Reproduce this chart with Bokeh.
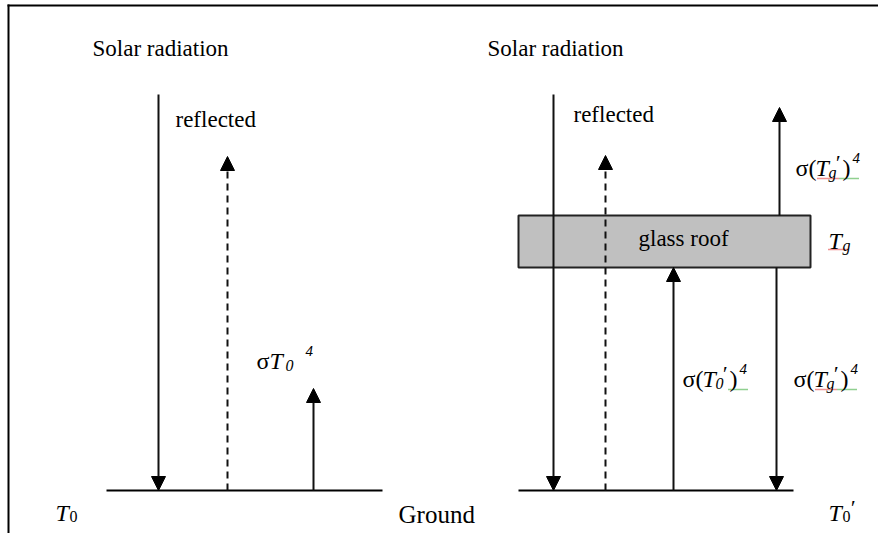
from bokeh.plotting import figure
from bokeh.models import Range1d, Arrow, NormalHead, ColumnDataSource
from bokeh.core.properties import value
from bokeh.embed import file_html
from bokeh.resources import INLINE

FONT = "Liberation Serif"

# ---- diagram content (image-pixel coordinates, y grows downward) ----
ground_y = 490
ground_x0 = [106, 518]
ground_x1 = [382, 793]

# arrows: x, start y, end y (tip), dashed
arrow_x = [158, 227, 313, 553, 605, 779, 673, 776]
arrow_y0 = [94, 490, 490, 94, 490, 215, 490, 267]
arrow_y1 = [490, 156, 388, 490, 155, 107, 267, 490]
arrow_dashed = [False, True, False, False, True, False, False, False]

roof_left, roof_right, roof_top, roof_bottom = 518, 810, 215, 267

# plain labels: text, x, baseline y, size
plain_text = ["Solar radiation", "Solar radiation", "reflected", "reflected", "glass roof", "Ground"]
plain_x = [92, 487, 175, 573, 638, 398]
plain_y = [48, 48, 119, 114, 238, 514]
plain_size = ["23px", "23px", "23px", "23px", "23px", "25px"]

# formula pieces: text, x, baseline y, size(px), italic
pieces = [
    # sigma T0^4 (left)
    ("σ", 256, 360, 24, False), ("T", 269, 360, 24, True), ("0", 285, 365, 16, True), ("4", 305, 350, 15, True),
    # sigma (T0')^4
    ("σ", 682, 378, 24, False), ("(", 695, 378, 24, False), ("T", 702, 378, 24, True), ("0", 715, 383, 16, True),
    ("′", 721, 373, 22, True), (")", 729, 378, 24, False), ("4", 739, 368, 15, True),
    # sigma (Tg')^4 lower
    ("σ", 793, 378, 24, False), ("(", 806, 378, 24, False), ("T", 813, 378, 24, True), ("g", 826, 383, 16, True),
    ("′", 832, 373, 22, True), (")", 840, 378, 24, False), ("4", 850, 368, 15, True),
    # sigma (Tg')^4 upper
    ("σ", 795, 167, 24, False), ("(", 808, 167, 24, False), ("T", 815, 167, 24, True), ("g", 828, 172, 16, True),
    ("′", 834, 162, 22, True), (")", 842, 167, 24, False), ("4", 852, 157, 15, True),
    # Tg
    ("T", 828, 240, 24, True), ("g", 842, 245, 16, True),
    # T0 left
    ("T", 55, 512, 24, True), ("0", 69, 516, 16, False),
    # T0' right
    ("T", 828, 512, 24, True), ("0", 842, 516, 16, False), ("′", 849, 507, 22, True),
]

# spell-check squiggles: x0, x1, y, colour
squig_x0 = [828, 815, 837, 728, 817, 839]
squig_x1 = [848, 837, 857, 747, 839, 859]
squig_y = [249, 389, 389, 389, 178, 178]
squig_c = ["#e02020", "#e02020", "#20a020", "#20a020", "#e02020", "#20a020"]

p = figure(width=878, height=533, x_range=Range1d(0, 878), y_range=Range1d(533, 0),
           output_backend="svg", toolbar_location=None, min_border=0)
p.xaxis.visible = False
p.yaxis.visible = False
p.grid.visible = False
p.outline_line_color = None
p.background_fill_color = "white"

# page border (top and left)
p.segment(x0=[7, 8], y0=[5, 4], x1=[878, 8], y1=[5, 533], line_color="black", line_width=2)

# ground lines
p.segment(x0=ground_x0, y0=[ground_y] * 2, x1=ground_x1, y1=[ground_y] * 2, line_color="black", line_width=2)

# glass roof
p.quad(left=[roof_left], right=[roof_right], top=[roof_top], bottom=[roof_bottom],
       fill_color="#c0c0c0", line_color="#222222", line_width=2)

# arrows
for x, y0, y1, d in zip(arrow_x, arrow_y0, arrow_y1, arrow_dashed):
    p.add_layout(Arrow(end=NormalHead(size=14, fill_color="black", line_color="black", line_width=1),
                       x_start=x, y_start=y0, x_end=x, y_end=y1,
                       line_color="#111111", line_width=2, line_dash="7 5" if d else "solid"))

# squiggly underlines
p.segment(x0=squig_x0, x1=squig_x1, y0=squig_y, y1=squig_y, line_color=squig_c,
          line_width=1.5, line_dash="1 1")

src0 = ColumnDataSource(dict(x=plain_x, y=plain_y, t=plain_text, s=plain_size))
p.text(x="x", y="y", text="t", source=src0, text_font=value(FONT), text_font_size="s",
       text_color="black", text_baseline="alphabetic", text_align="left")

for style in (False, True):
    sel = [q for q in pieces if q[4] == style]
    src = ColumnDataSource(dict(x=[q[1] for q in sel], y=[q[2] for q in sel], t=[q[0] for q in sel],
                                s=["%dpx" % q[3] for q in sel]))
    p.text(x="x", y="y", text="t", source=src, text_font=value(FONT), text_font_size="s",
           text_font_style="italic" if style else "normal", text_color="black",
           text_baseline="alphabetic", text_align="left")

open("out.html", "w").write(file_html(p, INLINE))
